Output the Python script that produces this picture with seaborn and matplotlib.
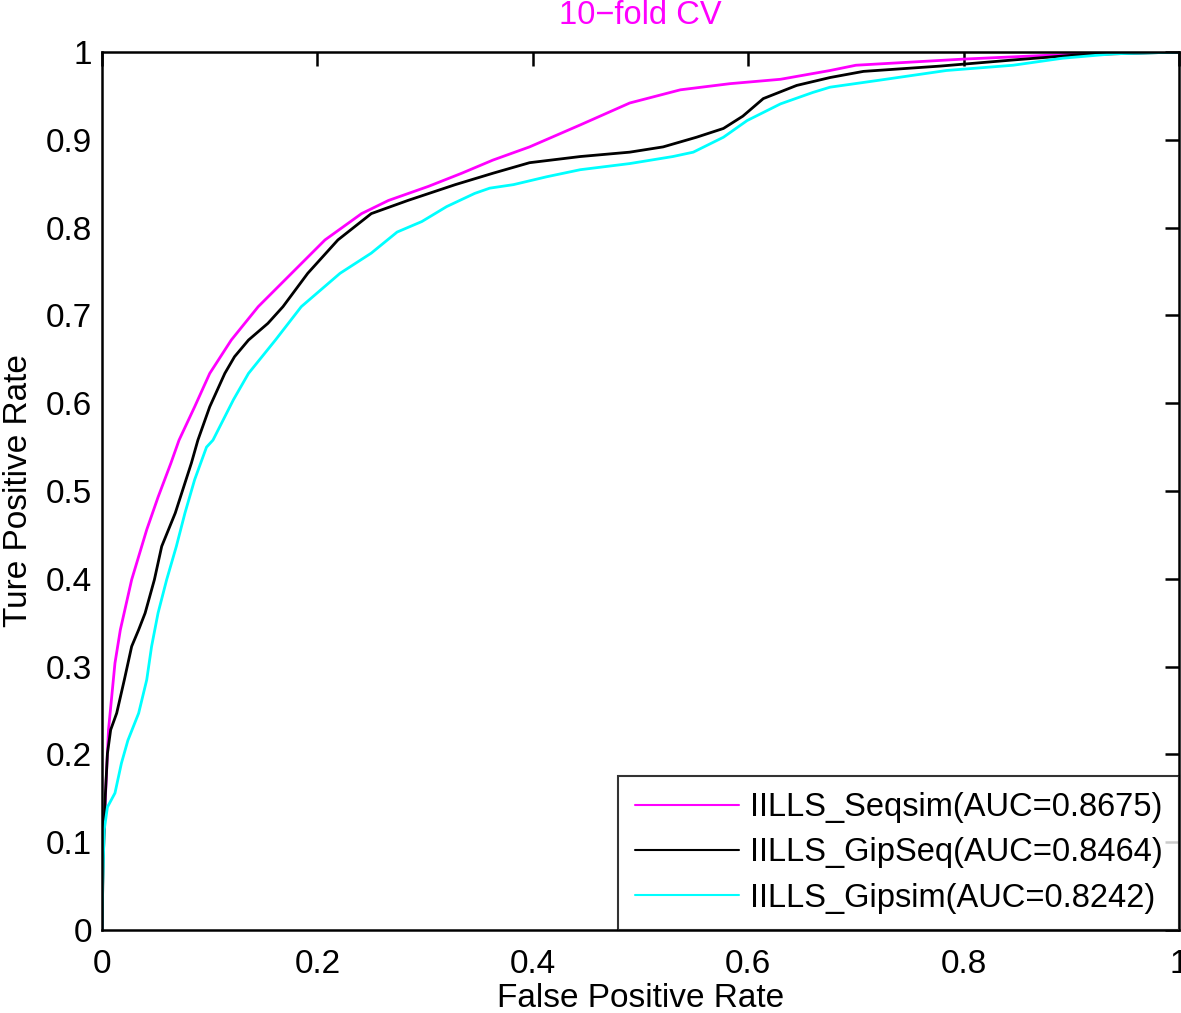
import numpy as np
import pandas as pd
import matplotlib
matplotlib.use("Agg")
import matplotlib.pyplot as plt
import seaborn as sns

# ===== ROC points =====
fpr_seqsim = [0.0, 0.0003, 0.006, 0.012, 0.017, 0.0275, 0.0415, 0.052, 0.064, 0.0715,
              0.086, 0.100, 0.120, 0.145, 0.176, 0.207, 0.241, 0.266, 0.303, 0.334,
              0.363, 0.397, 0.444, 0.490, 0.537, 0.583, 0.630, 0.676, 0.700, 0.800,
              0.908, 1.0]
tpr_seqsim = [0.0, 0.076, 0.228, 0.304, 0.342, 0.399, 0.456, 0.493, 0.532, 0.558,
              0.596, 0.634, 0.672, 0.710, 0.748, 0.786, 0.816, 0.831, 0.847, 0.862,
              0.877, 0.892, 0.917, 0.942, 0.957, 0.964, 0.969, 0.979, 0.985, 0.992,
              0.998, 1.0]

fpr_gipseq = [0.0, 0.001, 0.003, 0.005, 0.008, 0.0136, 0.0207, 0.0275, 0.034, 0.040,
              0.0486, 0.0554, 0.068, 0.083, 0.089, 0.100, 0.114, 0.123, 0.136, 0.154,
              0.168, 0.191, 0.219, 0.250, 0.284, 0.328, 0.363, 0.397, 0.444, 0.490,
              0.521, 0.552, 0.577, 0.595, 0.614, 0.645, 0.676, 0.707, 0.778, 0.846,
              0.908, 1.0]
tpr_gipseq = [0.0, 0.076, 0.152, 0.201, 0.228, 0.247, 0.285, 0.323, 0.342, 0.361,
              0.399, 0.437, 0.475, 0.532, 0.558, 0.596, 0.634, 0.653, 0.672, 0.691,
              0.710, 0.748, 0.786, 0.816, 0.831, 0.849, 0.862, 0.874, 0.881, 0.886,
              0.892, 0.903, 0.913, 0.927, 0.947, 0.962, 0.971, 0.978, 0.984, 0.991,
              0.997, 1.0]

fpr_gipsim = [0.0, 0.0005, 0.002, 0.005, 0.012, 0.018, 0.024, 0.034, 0.0415, 0.046,
              0.052, 0.060, 0.069, 0.077, 0.086, 0.097, 0.103, 0.122, 0.136, 0.161,
              0.185, 0.221, 0.250, 0.274, 0.297, 0.320, 0.346, 0.360, 0.382, 0.413,
              0.444, 0.490, 0.530, 0.549, 0.577, 0.599, 0.630, 0.660, 0.676, 0.722,
              0.784, 0.846, 0.892, 0.939, 1.0]
tpr_gipsim = [0.0, 0.049, 0.114, 0.140, 0.156, 0.190, 0.216, 0.247, 0.285, 0.323,
              0.361, 0.399, 0.437, 0.475, 0.513, 0.550, 0.558, 0.604, 0.634, 0.672,
              0.710, 0.748, 0.771, 0.795, 0.807, 0.824, 0.839, 0.845, 0.849, 0.858,
              0.866, 0.873, 0.881, 0.886, 0.903, 0.922, 0.941, 0.954, 0.960, 0.968,
              0.979, 0.985, 0.993, 0.998, 1.0]

labels = ["IILLS_Seqsim(AUC=0.8675)", "IILLS_GipSeq(AUC=0.8464)", "IILLS_Gipsim(AUC=0.8242)"]
colors = ["#ff00ff", "#000000", "#00ffff"]

df = pd.concat([
    pd.DataFrame({"fpr": fpr_seqsim, "tpr": tpr_seqsim, "model": labels[0]}),
    pd.DataFrame({"fpr": fpr_gipseq, "tpr": tpr_gipseq, "model": labels[1]}),
    pd.DataFrame({"fpr": fpr_gipsim, "tpr": tpr_gipsim, "model": labels[2]}),
], ignore_index=True)

# ===== Plot =====
sns.set_style("white")
plt.rcParams["font.family"] = ["Liberation Sans", "DejaVu Sans"]
plt.rcParams["text.color"] = "black"
plt.rcParams["axes.labelcolor"] = "black"
plt.rcParams["xtick.color"] = "black"
plt.rcParams["ytick.color"] = "black"

fig = plt.figure(figsize=(11.81, 10.13), dpi=100)
ax = fig.add_axes([0.0864, 0.0819, 0.9119, 0.8667])

sns.lineplot(data=df, x="fpr", y="tpr", hue="model", palette=colors,
             sort=False, estimator=None, linewidth=2, ax=ax)

ax.set_xlim(0, 1)
ax.set_ylim(0, 1)
ax.set_xticks(np.arange(0, 1.01, 0.2))
ax.set_yticks(np.arange(0, 1.01, 0.1))
ax.set_xticklabels(["0", "0.2", "0.4", "0.6", "0.8", "1"])
ax.set_yticklabels(["0", "0.1", "0.2", "0.3", "0.4", "0.5", "0.6", "0.7", "0.8", "0.9", "1"])
ax.tick_params(direction="in", length=10, width=1.8, labelsize=24,
               top=True, right=True)
ax.tick_params(axis="x", pad=14)
ax.tick_params(axis="y", pad=7)
for s in ax.spines.values():
    s.set_linewidth(1.8)
    s.set_color("black")

ax.set_xlabel("False Positive Rate", fontsize=24, labelpad=2)
ax.set_ylabel("Ture Positive Rate", fontsize=24, labelpad=9)
ax.set_title("10\u2212fold CV", color="#ff00ff", fontsize=23.5, pad=20)

leg = ax.legend(loc="lower right", fontsize=23.5, frameon=True, fancybox=False,
                edgecolor="black", handlelength=3.2, handletextpad=0.33,
                borderaxespad=0, labelspacing=0.44, borderpad=0.5)
leg.get_frame().set_linewidth(1.5)
for line in leg.get_lines():
    line.set_linewidth(1.5)

fig.savefig("out.png", dpi=100)
